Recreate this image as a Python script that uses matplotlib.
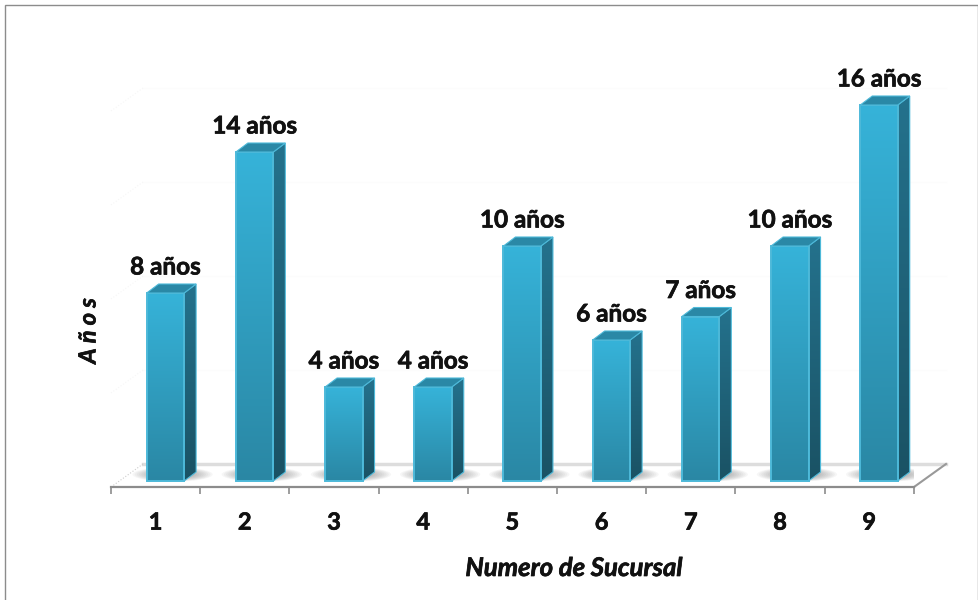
import matplotlib
matplotlib.use("Agg")
import matplotlib.pyplot as plt
import matplotlib.patheffects as pe
import numpy as np
from matplotlib.colors import LinearSegmentedColormap
from matplotlib.patches import Polygon, Rectangle, Ellipse

plt.rcParams['font.family'] = ['Lato', 'DejaVu Sans']

sucursales = [1, 2, 3, 4, 5, 6, 7, 8, 9]
anios = [8, 14, 4, 4, 10, 6, 7, 10, 16]
etiquetas = ['8 años', '14 años', '4 años', '4 años', '10 años', '6 años', '7 años', '10 años', '16 años']

W, H = 979, 600
PX_X = 89.2     # pixels per category
PX_Y = 23.5     # pixels per year
BASE = 481      # pixel row of y=0
AXIS = 487      # pixel row of the axis line
TOP = 60

bar_w = 0.42
bar_off = 0.11
dx = 12 / PX_X  # 3d depth
dy = 9 / PX_Y

front_cmap = LinearSegmentedColormap.from_list('front', ['#36B3D9', '#2A87A4'])
side_cmap = LinearSegmentedColormap.from_list('side', ['#24728D', '#1A5264'])
grad = np.linspace(0, 1, 256).reshape(-1, 1)
heavy = [pe.withStroke(linewidth=0.5, foreground='#111111')]


def draw_bar(ax, x, v):
   left = x + bar_off - bar_w / 2
   right = left + bar_w
   # front
   ax.bar(x + bar_off, v, bar_w, color='none', edgecolor='#4DB9D9', linewidth=1.4, zorder=5)
   im = ax.imshow(grad, extent=(left, right, 0, v), aspect='auto', cmap=front_cmap, zorder=4, origin='upper')
   im.set_clip_path(Rectangle((left, 0), bar_w, v, transform=ax.transData))
   # side
   side_pts = [(right, 0), (right + dx, dy), (right + dx, v + dy), (right, v)]
   ax.add_patch(Polygon(side_pts, closed=True, fc='none', ec='#4DB9D9', lw=0.8, zorder=5))
   im2 = ax.imshow(grad, extent=(right, right + dx, 0, v + dy), aspect='auto', cmap=side_cmap, zorder=4, origin='upper')
   im2.set_clip_path(Polygon(side_pts, closed=True, transform=ax.transData))
   # top
   top_pts = [(left, v), (right, v), (right + dx, v + dy), (left + dx, v + dy)]
   ax.add_patch(Polygon(top_pts, closed=True, fc='#2A88A6', ec='#4DB9D9', lw=0.8, zorder=5))
   # shadow on the floor
   for k in range(12):
      ax.add_patch(Ellipse((x + bar_off + 0.08, 0.28), 0.9 - k * 0.05, 0.62 - k * 0.035,
                           fc='#555555', ec='none', alpha=0.05, zorder=2))


fig = plt.figure(figsize=(W / 100, H / 100), dpi=100)
fig.patch.set_facecolor('white')
fig.add_artist(Rectangle((5 / W, -0.01), (W - 6) / W, 1.01 - 5 / H, transform=fig.transFigure,
                         fc='none', ec='#8c8c8c', lw=1.0))

ax = fig.add_axes([111 / W, 1 - AXIS / H, (914 - 111) / W, (AXIS - TOP) / H])
ax.patch.set_alpha(0)

xmin, xmax = 0.5, 0.5 + (914 - 111) / PX_X
ymin, ymax = -(AXIS - BASE) / PX_Y, (BASE - TOP) / PX_Y

# floor and faint wall
back_dx = 32 / PX_X
back_dy = (AXIS - 464) / PX_Y
ax.plot([xmin + back_dx, xmax + back_dx], [ymin + back_dy] * 2, color='#dddddd', lw=2.5, zorder=1, clip_on=False)
ax.plot([xmax, xmax + back_dx], [ymin, ymin + back_dy], color='#999999', lw=1.5, zorder=1, clip_on=False)
ax.plot([xmin, xmin + back_dx], [ymin, ymin + back_dy], color='#cccccc', lw=0.8, ls=':', zorder=1, clip_on=False)
for g in [4, 8, 12, 16]:
   y0 = ymin + g
   ax.plot([xmin + back_dx, xmax + back_dx], [y0 + back_dy] * 2, color='#fcfcfc', lw=0.8, zorder=0, clip_on=False)
   ax.plot([xmin, xmin + back_dx], [y0, y0 + back_dy], color='#f6f6f6', lw=0.8, ls=':', zorder=0, clip_on=False)

for x, v, t in zip(sucursales, anios, etiquetas):
   draw_bar(ax, x, v)
   ax.annotate(t, (x + bar_off, v), xytext=(0, 26), textcoords='offset pixels', ha='center', va='center',
               fontsize=17.5, fontweight='bold', color='#111111', zorder=6, path_effects=heavy)

ax.set_xlim(xmin, xmax)
ax.set_ylim(ymin, ymax)

for s in ['top', 'left', 'right']:
   ax.spines[s].set_visible(False)
ax.spines['bottom'].set_color('#8c8c8c')
ax.spines['bottom'].set_linewidth(1.6)
ax.set_yticks([])
ax.set_xticks(sucursales)
ax.set_xticklabels([str(s) for s in sucursales], fontsize=17, fontweight='bold', color='#111111', path_effects=heavy)
ax.set_xticks(np.arange(0.5, 10, 1), minor=True)
ax.tick_params(axis='x', which='major', length=0, pad=17)
ax.tick_params(axis='x', which='minor', length=5, width=1.2, color='#8c8c8c')

fig.text(574 / W, 1 - 568 / H, 'Numero de Sucursal', ha='center', va='center',
         fontsize=18.5, fontweight='bold', fontstyle='italic', color='#111111', path_effects=heavy)
fig.text(88 / W, 1 - 331 / H, 'A ñ o s', ha='center', va='center', rotation=90,
         fontsize=17, fontweight='bold', fontstyle='italic', color='#111111', path_effects=heavy)

fig.savefig('out.png', dpi=100)
